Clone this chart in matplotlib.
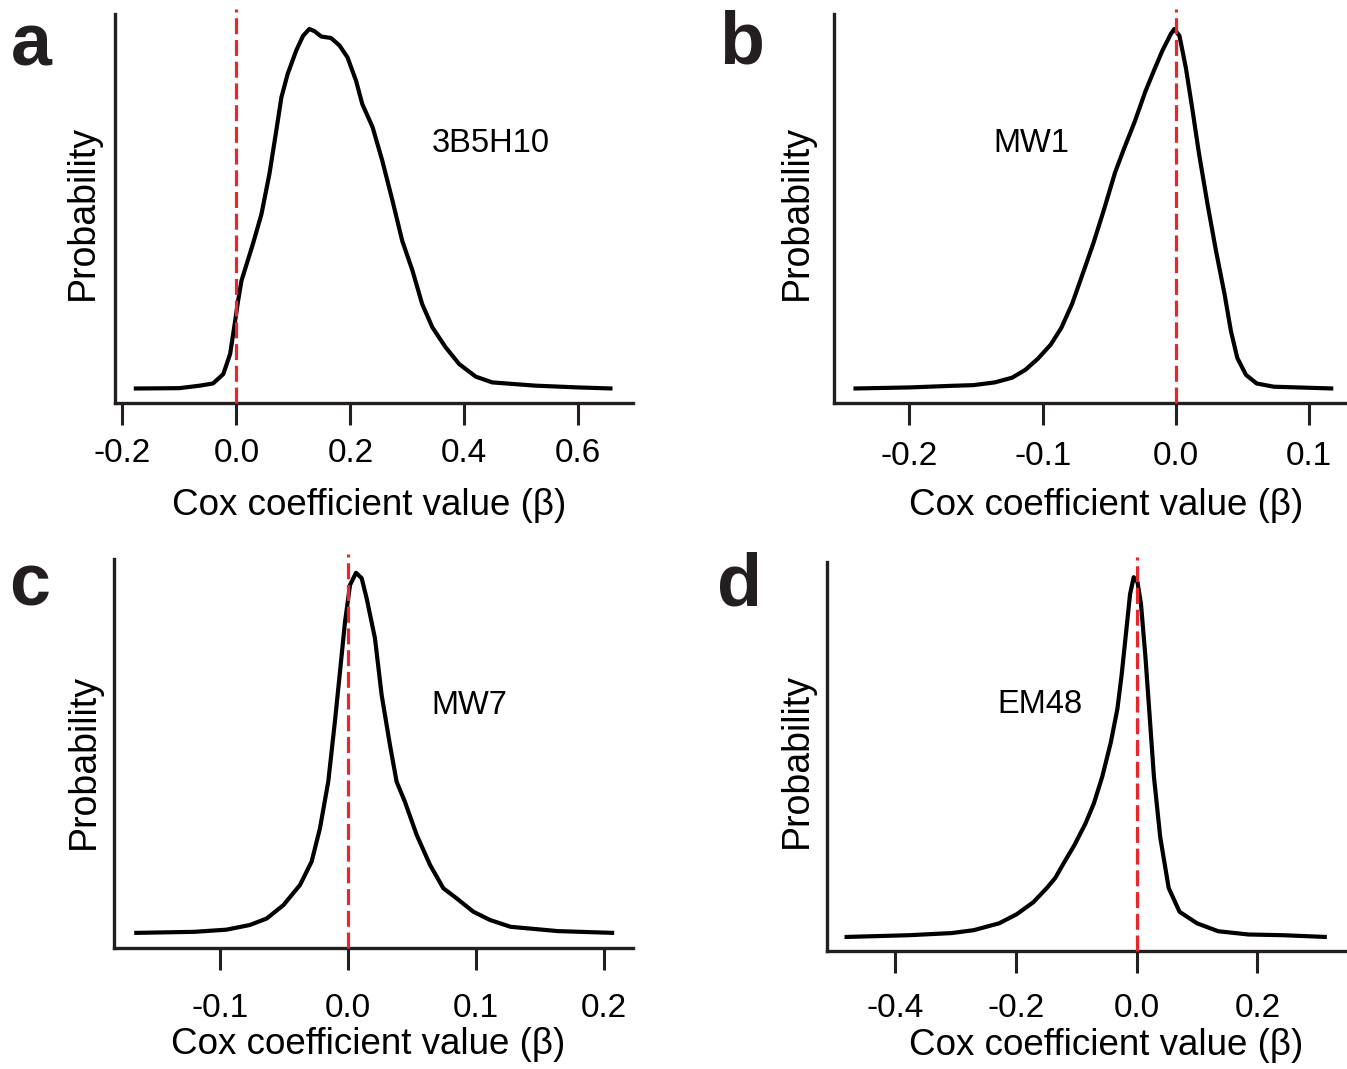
import matplotlib
matplotlib.use("Agg")
import matplotlib.pyplot as plt

plt.rcParams['font.family'] = ['Liberation Sans', 'DejaVu Sans']

# ---------------- data (normalised posterior density, peak = 1) ----------------
panel_letters = ["a", "b", "c", "d"]
antibody_names = ["3B5H10", "MW1", "MW7", "EM48"]

a_beta = [-0.180, -0.100, -0.064, -0.041, -0.023, -0.011, -0.003, 0.003, 0.009, 0.018,
          0.029, 0.044, 0.058, 0.070, 0.079, 0.090, 0.105, 0.117, 0.128, 0.137,
          0.149, 0.166, 0.181, 0.195, 0.210, 0.221, 0.239, 0.256, 0.274, 0.291,
          0.309, 0.326, 0.344, 0.367, 0.391, 0.420, 0.449, 0.524, 0.600, 0.660]
a_prob = [0.0, 0.001, 0.008, 0.014, 0.040, 0.096, 0.179, 0.244, 0.300, 0.346,
          0.402, 0.485, 0.597, 0.717, 0.810, 0.875, 0.940, 0.981, 1.0, 0.994,
          0.979, 0.975, 0.954, 0.921, 0.856, 0.791, 0.727, 0.634, 0.522, 0.411,
          0.328, 0.235, 0.170, 0.115, 0.068, 0.033, 0.017, 0.008, 0.003, 0.0]

b_beta = [-0.242, -0.200, -0.168, -0.152, -0.136, -0.123, -0.113, -0.1036, -0.094, -0.086,
          -0.078, -0.070, -0.062, -0.054, -0.0457, -0.039, -0.031, -0.023, -0.0167, -0.0103,
          -0.0039, -0.0013, 0.0026, 0.0074, 0.0122, 0.0171, 0.0235, 0.0299, 0.0364, 0.0412,
          0.046, 0.0525, 0.0605, 0.0734, 0.118]
b_prob = [0.0, 0.003, 0.0075, 0.0094, 0.017, 0.030, 0.052, 0.083, 0.122, 0.169,
          0.235, 0.319, 0.404, 0.498, 0.601, 0.667, 0.742, 0.826, 0.883, 0.939,
          0.986, 1.0, 0.981, 0.892, 0.779, 0.657, 0.516, 0.385, 0.263, 0.160,
          0.085, 0.038, 0.014, 0.005, 0.0]

c_beta = [-0.167, -0.120, -0.095, -0.0766, -0.0635, -0.0505, -0.0375, -0.0284, -0.0219, -0.0154,
          -0.0102, -0.0057, -0.0023, 0.0016, 0.0063, 0.0107, 0.0146, 0.0211, 0.0263, 0.0328,
          0.0380, 0.0445, 0.0537, 0.0641, 0.0745, 0.0849, 0.0979, 0.1109, 0.127, 0.164, 0.208]
c_prob = [0.0, 0.003, 0.009, 0.022, 0.040, 0.077, 0.133, 0.198, 0.290, 0.420,
          0.587, 0.744, 0.864, 0.966, 1.0, 0.985, 0.929, 0.818, 0.661, 0.522,
          0.420, 0.364, 0.272, 0.189, 0.124, 0.096, 0.059, 0.036, 0.017, 0.005, 0.0]

d_beta = [-0.484, -0.377, -0.306, -0.270, -0.228, -0.199, -0.171, -0.149, -0.135, -0.121,
          -0.103, -0.085, -0.071, -0.057, -0.043, -0.032, -0.025, -0.018, -0.011, -0.005,
          0.0014, 0.0071, 0.0142, 0.0214, 0.0285, 0.039, 0.053, 0.071, 0.100, 0.135,
          0.185, 0.242, 0.315]
d_prob = [0.0, 0.005, 0.011, 0.019, 0.038, 0.063, 0.097, 0.136, 0.164, 0.205,
          0.256, 0.315, 0.371, 0.446, 0.540, 0.634, 0.728, 0.840, 0.953, 1.0,
          0.986, 0.925, 0.784, 0.615, 0.446, 0.277, 0.136, 0.070, 0.038, 0.016,
          0.007, 0.005, 0.0]

a_ticks = [-0.2, 0.0, 0.2, 0.4, 0.6]
b_ticks = [-0.2, -0.1, 0.0, 0.1]
c_ticks = [-0.1, 0.0, 0.1, 0.2]
d_ticks = [-0.4, -0.2, 0.0, 0.2]
null_value = 0.0

xlabel_text = "Cox coefficient value (\u03b2)"
ylabel_text = "Probability"

# ---------------- layout ----------------
W, H = 1347, 1069
fig = plt.figure(figsize=(W / 100, H / 100), dpi=100)

def px_axes(left, right, top, bottom):
    return [left / W, 1 - bottom / H, (right - left) / W, (bottom - top) / H]

panels = [
    dict(beta=a_beta, prob=a_prob, ticks=a_ticks, box=(115, 633, 14, 403),
         xlim=(-0.213, 0.696), ylim=(-0.0403, 1.0417), pad=9.4,
         name_xy=(0.612, 0.645), xl=(0.49, -0.288), yl=(-0.062, 0.49),
         letter_xy=(11, 65)),
    dict(beta=b_beta, prob=b_prob, ticks=b_ticks, box=(834, 1345, 14, 403),
         xlim=(-0.2566, 0.1268), ylim=(-0.0403, 1.0417), pad=11.5,
         name_xy=(0.311, 0.645), xl=(0.532, -0.288), yl=(-0.072, 0.49),
         letter_xy=(719, 64)),
    dict(beta=c_beta, prob=c_prob, ticks=c_ticks, box=(114, 633, 558.6, 948),
         xlim=(-0.1828, 0.2227), ylim=(-0.0419, 1.0394), pad=16.5,
         name_xy=(0.611, 0.601), xl=(0.489, -0.271), yl=(-0.058, 0.48),
         letter_xy=(9, 606)),
    dict(beta=d_beta, prob=d_prob, ticks=d_ticks, box=(826.6, 1346, 562, 951),
         xlim=(-0.5137, 0.3467), ylim=(-0.0389, 1.0422), pad=14.4,
         name_xy=(0.328, 0.612), xl=(0.539, -0.267), yl=(-0.058, 0.49),
         letter_xy=(717, 606)),
]

spine_col = "#231f20"
red = "#e8262c"

for p, letter, name in zip(panels, panel_letters, antibody_names):
    ax = fig.add_axes(px_axes(*p["box"]))
    ax.plot(p["beta"], p["prob"], color="black", lw=3.0, solid_joinstyle="round",
            solid_capstyle="butt", zorder=3)
    ax.axvline(null_value, ymin=0, ymax=1.012, color=red, lw=2.3,
               linestyle=(0, (5, 1.8)), clip_on=False, zorder=4)
    ax.set_xlim(*p["xlim"])
    ax.set_ylim(*p["ylim"])
    ax.set_xticks(p["ticks"])
    ax.set_xticklabels([f"{t:.1f}" for t in p["ticks"]])
    ax.set_yticks([])
    for s in ("top", "right"):
        ax.spines[s].set_visible(False)
    for s in ("left", "bottom"):
        ax.spines[s].set_linewidth(2.4)
        ax.spines[s].set_color(spine_col)
        ax.spines[s].set_capstyle("projecting")
    ax.tick_params(axis="x", length=15.8, width=2.2, color=spine_col,
                   labelsize=24, pad=p["pad"], direction="out")
    ax.set_xlabel(xlabel_text, fontsize=26.5)
    ax.xaxis.set_label_coords(*p["xl"])
    ax.xaxis.label.set_va("baseline")
    ax.set_ylabel(ylabel_text, fontsize=27)
    ax.yaxis.set_label_coords(*p["yl"])
    ax.yaxis.label.set_va("center")
    ax.yaxis.label.set_ha("center")
    ax.text(p["name_xy"][0], p["name_xy"][1], name, transform=ax.transAxes,
            fontsize=23.5, ha="left", va="baseline")
    fig.text(p["letter_xy"][0] / W, 1 - p["letter_xy"][1] / H, letter,
             fontsize=53, fontweight="bold", ha="left", va="baseline",
             color=spine_col)

fig.savefig("out.png", dpi=100, facecolor="white")
